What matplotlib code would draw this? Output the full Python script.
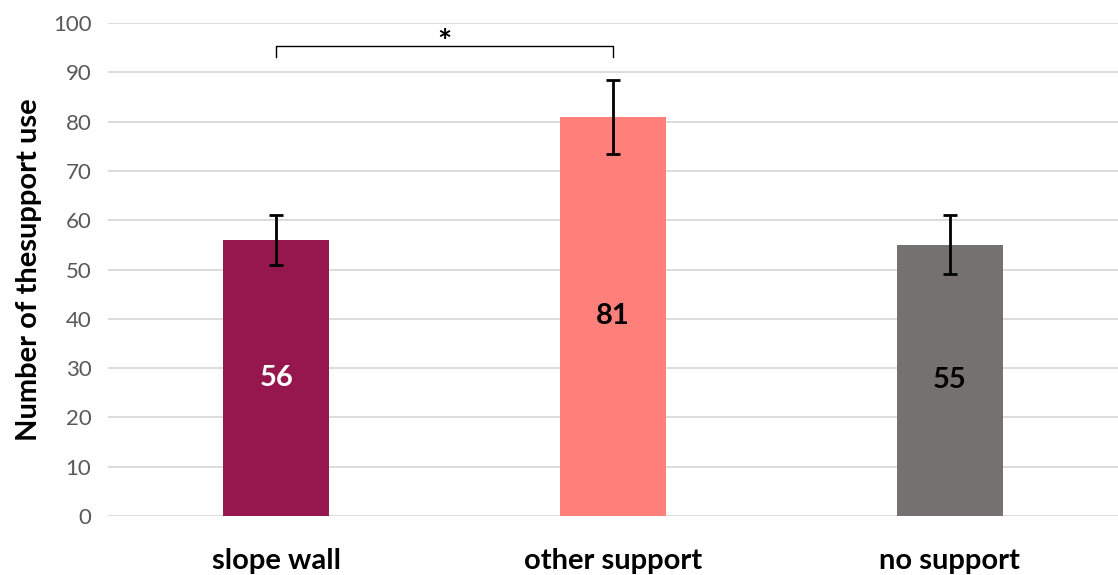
import matplotlib

matplotlib.use("Agg")
import matplotlib.pyplot as plt

plt.rcParams["font.family"] = ["Lato", "DejaVu Sans"]

categories = ["slope wall", "other support", "no support"]
values = [56, 81, 55]
errors = [5, 7.5, 6]
colors = ["#96174D", "#FF7F7A", "#767171"]
label_colors = ["white", "black", "black"]
y_ticks = list(range(0, 101, 10))

fig = plt.figure(figsize=(11.18, 5.75), dpi=100)
ax = fig.add_axes([0.0966, 0.1026, 0.9034, 0.8574])

x = range(len(categories))
ax.bar(x, values, width=0.315, color=colors, zorder=2)
ax.errorbar(x, values, yerr=errors, fmt="none", ecolor="black", elinewidth=2,
            capsize=5, capthick=2, zorder=3)
for xi, v, c in zip(x, values, label_colors):
    ax.text(xi, v / 2, str(v), ha="center", va="center", color=c,
            fontsize=21, fontweight="bold", zorder=4)

# significance bracket between slope wall and other support
ax.plot([0, 0, 1, 1], [93.1, 95.4, 95.4, 93.1], color="black", linewidth=1, zorder=3)
ax.text(0.5, 93.0, "*", ha="center", va="bottom", fontsize=24, fontweight="bold",
        color="black")

ax.set_xlim(-0.5, 2.5)
ax.set_ylim(0, 100)
ax.set_yticks(y_ticks)
ax.yaxis.grid(True, color="#D9D9D9", linewidth=1.3, zorder=0)
ax.set_axisbelow(True)
ax.set_xticks(list(x), categories)
for spine in ax.spines.values():
    spine.set_visible(False)
ax.tick_params(axis="y", length=0, labelsize=16, labelcolor="#595959", pad=12)
ax.tick_params(axis="x", length=0, labelsize=21, pad=23)
for lbl in ax.get_xticklabels():
    lbl.set_fontweight("bold")
ax.set_ylabel("Number of thesupport use", fontsize=21, fontweight="bold", labelpad=8)

fig.savefig("out.png", dpi=100)
